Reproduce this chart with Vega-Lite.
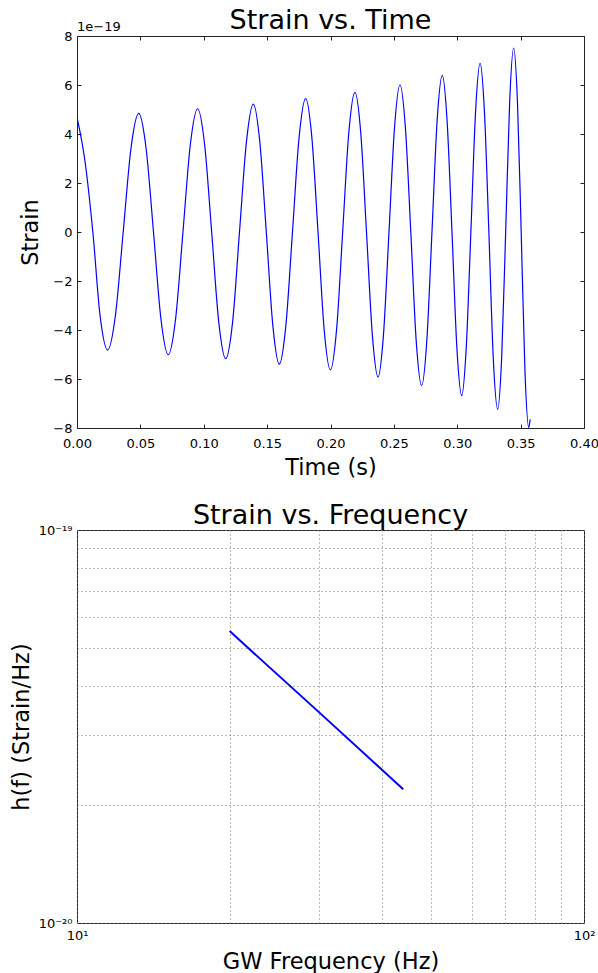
{
  "$schema": "https://vega.github.io/schema/vega-lite/v6.json",
  "padding": {"left": 9, "top": 6, "right": 0, "bottom": 0},
  "spacing": 22,
  "config": {
    "font": "DejaVu Sans",
    "view": {"stroke": "#222", "strokeWidth": 1},
    "axis": {
      "labelFont": "DejaVu Sans", "titleFont": "DejaVu Sans",
      "labelColor": "#000", "titleColor": "#000",
      "labelFontSize": 13, "titleFontSize": 22.5, "titleFontWeight": "normal",
      "domain": false, "grid": false, "labelFlush": false, "labelOverlap": false,
      "tickColor": "#222"
    },
    "title": {"font": "DejaVu Sans", "fontSize": 27, "fontWeight": "normal", "color": "#000"}
  },
  "vconcat": [
    {
      "width": 507,
      "height": 392,
      "title": {"text": "Strain vs. Time", "offset": -14},
      "data": {"values": [
        {"time": 0, "strain": 4.68e-19},
        {"time": 0.006, "strain": 3.0e-19},
        {"time": 0.0125, "strain": 0},
        {"time": 0.0182, "strain": -3.41e-19},
        {"time": 0.0242, "strain": -4.82e-19},
        {"time": 0.0303, "strain": -3.41e-19},
        {"time": 0.03645, "strain": 0},
        {"time": 0.0426, "strain": 3.42e-19},
        {"time": 0.0487, "strain": 4.84e-19},
        {"time": 0.0545, "strain": 3.42e-19},
        {"time": 0.06035, "strain": 0},
        {"time": 0.0662, "strain": -3.54e-19},
        {"time": 0.072, "strain": -5.01e-19},
        {"time": 0.0778, "strain": -3.54e-19},
        {"time": 0.0836, "strain": 0},
        {"time": 0.0894, "strain": 3.56e-19},
        {"time": 0.0952, "strain": 5.03e-19},
        {"time": 0.1007, "strain": 3.56e-19},
        {"time": 0.10625, "strain": 0},
        {"time": 0.1118, "strain": -3.66e-19},
        {"time": 0.1173, "strain": -5.17e-19},
        {"time": 0.1228, "strain": -3.66e-19},
        {"time": 0.1282, "strain": 0},
        {"time": 0.1337, "strain": 3.69e-19},
        {"time": 0.1391, "strain": 5.22e-19},
        {"time": 0.1442, "strain": 3.69e-19},
        {"time": 0.14935, "strain": 0},
        {"time": 0.1545, "strain": -3.81e-19},
        {"time": 0.1596, "strain": -5.39e-19},
        {"time": 0.1648, "strain": -3.81e-19},
        {"time": 0.17, "strain": 0},
        {"time": 0.1752, "strain": 3.85e-19},
        {"time": 0.1804, "strain": 5.44e-19},
        {"time": 0.1853, "strain": 3.85e-19},
        {"time": 0.19015, "strain": 0},
        {"time": 0.195, "strain": -3.98e-19},
        {"time": 0.1999, "strain": -5.63e-19},
        {"time": 0.2048, "strain": -3.98e-19},
        {"time": 0.2096, "strain": 0},
        {"time": 0.2144, "strain": 4.03e-19},
        {"time": 0.2193, "strain": 5.70e-19},
        {"time": 0.2239, "strain": 4.03e-19},
        {"time": 0.2284, "strain": 0},
        {"time": 0.233, "strain": -4.19e-19},
        {"time": 0.2375, "strain": -5.92e-19},
        {"time": 0.2418, "strain": -4.19e-19},
        {"time": 0.24615, "strain": 0},
        {"time": 0.2505, "strain": 4.25e-19},
        {"time": 0.2548, "strain": 6.01e-19},
        {"time": 0.2591, "strain": 4.25e-19},
        {"time": 0.26335, "strain": 0},
        {"time": 0.2676, "strain": -4.43e-19},
        {"time": 0.2719, "strain": -6.27e-19},
        {"time": 0.276, "strain": -4.43e-19},
        {"time": 0.28005, "strain": 0},
        {"time": 0.2841, "strain": 4.52e-19},
        {"time": 0.2882, "strain": 6.39e-19},
        {"time": 0.292, "strain": 4.52e-19},
        {"time": 0.29585, "strain": 0},
        {"time": 0.2997, "strain": -4.72e-19},
        {"time": 0.3035, "strain": -6.68e-19},
        {"time": 0.3071, "strain": -4.72e-19},
        {"time": 0.31075, "strain": 0},
        {"time": 0.3144, "strain": 4.86e-19},
        {"time": 0.318, "strain": 6.88e-19},
        {"time": 0.3215, "strain": 4.86e-19},
        {"time": 0.32495, "strain": 0},
        {"time": 0.3284, "strain": -5.12e-19},
        {"time": 0.3319, "strain": -7.24e-19},
        {"time": 0.33505, "strain": -5.12e-19},
        {"time": 0.3382, "strain": 0},
        {"time": 0.34135, "strain": 5.31e-19},
        {"time": 0.3445, "strain": 7.51e-19},
        {"time": 0.3475, "strain": 5.31e-19},
        {"time": 0.35045, "strain": 0},
        {"time": 0.3534, "strain": -5.64e-19},
        {"time": 0.3564, "strain": -7.98e-19},
        {"time": 0.3575, "strain": -7.65e-19}
      ]},
      "layer": [
        {
          "mark": {"type": "line", "color": "#0000ff", "strokeWidth": 1.2, "interpolate": "monotone", "clip": true},
          "encoding": {
            "x": {"field": "time", "type": "quantitative",
              "scale": {"domain": [0, 0.4], "nice": false},
              "axis": {"title": "Time (s)", "values": [0, 0.05, 0.1, 0.15, 0.2, 0.25, 0.3, 0.35, 0.4], "format": ".2f", "tickSize": -4, "labelPadding": 13, "titlePadding": 6}},
            "y": {"field": "strain", "type": "quantitative",
              "scale": {"domain": [-8e-19, 8e-19], "nice": false},
              "axis": {"title": "Strain", "values": [-8e-19, -6e-19, -4e-19, -2e-19, 0, 2e-19, 4e-19, 6e-19, 8e-19], "labelExpr": "format(datum.value*1e19, '.0f')", "tickSize": -4, "labelPadding": 9, "titlePadding": 10}}
          }
        },
        {
          "data": {"values": [{}]},
          "mark": {"type": "text", "text": "1e−19", "align": "left", "baseline": "bottom", "dy": -2, "fontSize": 13, "font": "DejaVu Sans", "color": "#000"},
          "encoding": {
            "x": {"datum": 0, "type": "quantitative",
              "axis": {"orient": "top", "labels": false, "title": null, "values": [0, 0.05, 0.1, 0.15, 0.2, 0.25, 0.3, 0.35, 0.4], "tickSize": -4}},
            "y": {"datum": 8e-19, "type": "quantitative",
              "axis": {"orient": "right", "labels": false, "title": null, "values": [-8e-19, -6e-19, -4e-19, -2e-19, 0, 2e-19, 4e-19, 6e-19, 8e-19], "tickSize": -4}}
          }
        }
      ],
      "resolve": {"axis": {"x": "independent", "y": "independent"}}
    },
    {
      "width": 507,
      "height": 393,
      "title": {"text": "Strain vs. Frequency", "offset": -6},
      "data": {"values": [
        {"freq": 20, "hf": 5.53e-20},
        {"freq": 30, "hf": 3.44e-20},
        {"freq": 44, "hf": 2.19e-20}
      ]},
      "mark": {"type": "line", "color": "#0000ff", "strokeWidth": 2},
      "encoding": {
        "x": {"field": "freq", "type": "quantitative",
          "scale": {"type": "log", "domain": [10, 100], "nice": false},
          "axis": {"title": "GW Frequency (Hz)", "values": [10, 20, 30, 40, 50, 60, 70, 80, 90, 100],
            "labelExpr": "datum.value == 10 ? '10¹' : (datum.value == 100 ? '10²' : '')",
            "grid": true, "gridDash": [1, 3], "gridColor": "#777", "ticks": false, "labelPadding": 6, "titlePadding": 8, "labelFontSize": 13}},
        "y": {"field": "hf", "type": "quantitative",
          "scale": {"type": "log", "domain": [1e-20, 1e-19], "nice": false},
          "axis": {"title": "h(f) (Strain/Hz)", "values": [1e-20, 2e-20, 3e-20, 4e-20, 5e-20, 6e-20, 7e-20, 8e-20, 9e-20, 1e-19],
            "labelExpr": "datum.value < 1.5e-20 ? '10⁻²⁰' : (datum.value > 9.5e-20 ? '10⁻¹⁹' : '')",
            "grid": true, "gridDash": [1, 3], "gridColor": "#777", "ticks": false, "labelPadding": 5, "titlePadding": 5, "labelFontSize": 13}}
      }
    }
  ]
}
